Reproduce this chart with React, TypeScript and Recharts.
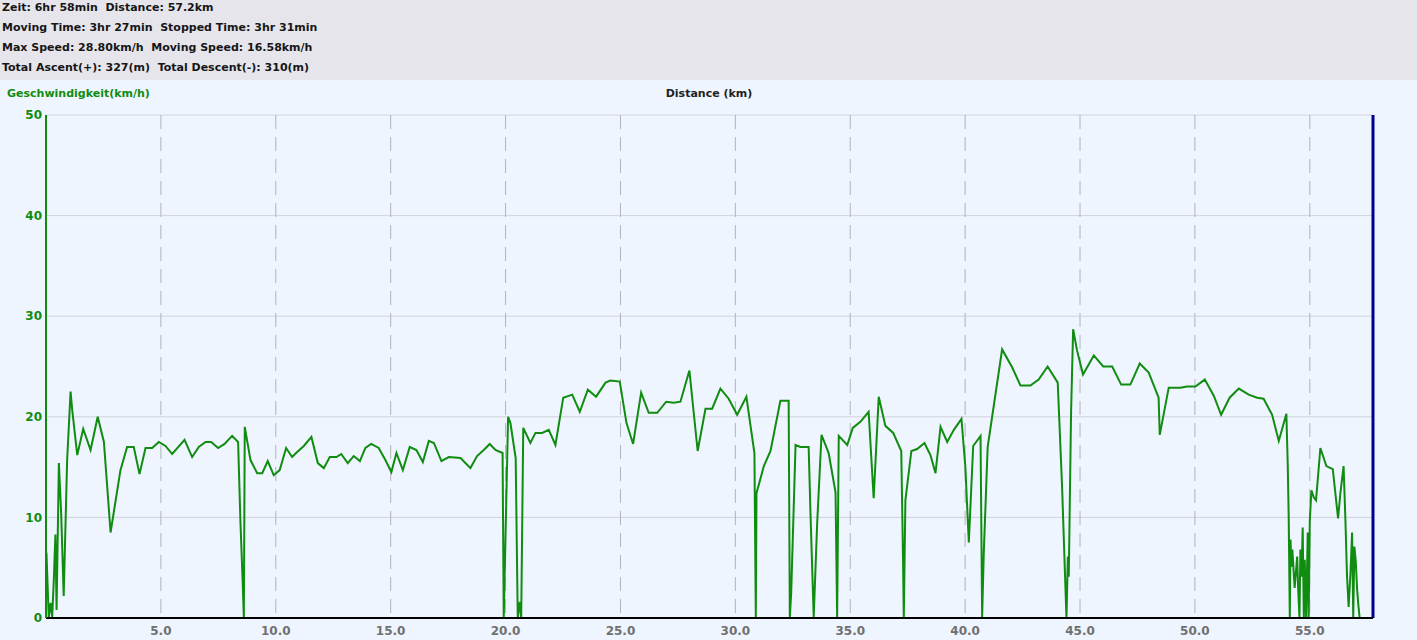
import React from "react";
import {
  LineChart,
  Line,
  XAxis,
  YAxis,
  CartesianGrid,
  ReferenceLine,
} from "recharts";

const headerLines: string[] = [
  "Zeit: 6hr 58min  Distance: 57.2km",
  "Moving Time: 3hr 27min  Stopped Time: 3hr 31min",
  "Max Speed: 28.80km/h  Moving Speed: 16.58km/h",
  "Total Ascent(+): 327(m)  Total Descent(-): 310(m)",
];

const yAxisTitle = "Geschwindigkeit(km/h)";
const xAxisTitle = "Distance (km)";

const xTicks: number[] = [5, 10, 15, 20, 25, 30, 35, 40, 45, 50, 55];
const yTicks: number[] = [0, 10, 20, 30, 40, 50];
const xMax = 57.75;

const distanceKm: number[] = [
  0.02, 0.12, 0.2, 0.27, 0.34, 0.41, 0.46, 0.56, 0.66, 0.77, 0.92, 1.07, 1.14, 1.36, 1.62, 1.94, 2.25, 2.52, 2.81, 3.24,
  3.53, 3.82, 4.07, 4.33, 4.62, 4.91, 5.2, 5.49, 6.03, 6.36, 6.65, 6.94, 7.19, 7.49, 7.77, 8.1, 8.36, 8.46, 8.56, 8.61,
  8.65, 8.9, 9.19, 9.41, 9.65, 9.91, 10.17, 10.45, 10.71, 10.93, 11.22, 11.55, 11.83, 12.09, 12.35, 12.64, 12.85, 13.13,
  13.39, 13.66, 13.9, 14.15, 14.48, 14.77, 15.03, 15.25, 15.53, 15.83, 16.12, 16.4, 16.66, 16.88, 17.21, 17.53, 18.04,
  18.47, 18.76, 19.05, 19.31, 19.56, 19.87, 19.92, 20.11, 20.21, 20.44, 20.53, 20.62, 20.68, 20.77, 21.08, 21.3, 21.59,
  21.88, 22.17, 22.51, 22.9, 23.23, 23.58, 23.94, 24.35, 24.56, 24.97, 25.26, 25.55, 25.9, 26.23, 26.6, 26.99, 27.32,
  27.61, 28.0, 28.36, 28.7, 28.99, 29.35, 29.71, 30.08, 30.48, 30.83, 30.89, 30.92, 31.24, 31.53, 31.96, 32.32, 32.37,
  32.43, 32.62, 32.83, 33.19, 33.27, 33.41, 33.56, 33.75, 34.06, 34.36, 34.43, 34.5, 34.87, 35.11, 35.44, 35.8, 36.02,
  36.24, 36.53, 36.87, 37.22, 37.3, 37.33, 37.4, 37.66, 37.91, 38.23, 38.49, 38.71, 38.93, 39.22, 39.51, 39.84, 40.01,
  40.16, 40.35, 40.67, 40.74, 40.81, 40.98, 41.24, 41.61, 42.05, 42.41, 42.84, 43.2, 43.59, 44.03, 44.22, 44.32, 44.41,
  44.47, 44.51, 44.61, 44.7, 44.87, 45.13, 45.6, 46.01, 46.4, 46.79, 47.19, 47.6, 47.99, 48.42, 48.47, 48.86, 49.37,
  49.66, 50.02, 50.43, 50.82, 51.14, 51.51, 51.91, 52.34, 52.71, 52.99, 53.36, 53.65, 53.98, 54.04, 54.08, 54.13, 54.16,
  54.2, 54.24, 54.34, 54.45, 54.49, 54.55, 54.59, 54.64, 54.69, 54.74, 54.78, 54.84, 54.91, 54.95, 55.0, 55.07, 55.17,
  55.27, 55.46, 55.72, 56.0, 56.23, 56.33, 56.47, 56.55, 56.62, 56.69, 56.77, 56.84, 56.89, 56.94, 57.0, 57.06, 57.12,
  57.17,
];

const speedKmh: number[] = [
  6.5, 0, 1.5, 0.1, 3.8, 8.3, 0.8, 15.4, 10.4, 2.2, 15.7, 22.5, 20.7, 16.2, 18.8, 16.7, 20.0, 17.5, 8.5, 14.7,
  17.0, 17.0, 14.3, 16.9, 16.9, 17.5, 17.1, 16.3, 17.7, 16.0, 17.0, 17.5, 17.5, 16.9, 17.3, 18.1, 17.5, 9.7, 3.5, 0,
  19.0, 15.7, 14.4, 14.4, 15.6, 14.2, 14.7, 16.9, 16.0, 16.5, 17.1, 18.0, 15.4, 14.9, 16.0, 16.0, 16.3, 15.4,
  16.1, 15.6, 16.9, 17.3, 16.9, 15.7, 14.5, 16.4, 14.7, 17.0, 16.7, 15.5, 17.6, 17.4, 15.6, 16.0, 15.9,
  14.9, 16.1, 16.7, 17.3, 16.7, 16.4, 0, 20.0, 19.4, 15.9, 0, 1.6, 0, 18.9, 17.4, 18.4, 18.4,
  18.7, 17.2, 21.9, 22.2, 20.5, 22.7, 22.0, 23.4, 23.6, 23.5, 19.4, 17.3, 22.4, 20.4, 20.4, 21.5, 21.4,
  21.5, 24.6, 16.6, 20.8, 20.8, 22.8, 21.8, 20.2, 22.0, 16.4, 0, 12.4, 15.1, 16.6, 21.6, 21.6, 0,
  2.5, 17.2, 17.0, 17.0, 10.4, 0.1, 9.4, 18.2, 16.4, 12.5, 0.1, 18.1, 17.2, 18.9, 19.5, 20.5, 11.9,
  22.0, 19.1, 18.4, 16.6, 5.5, 0, 11.7, 16.6, 16.8, 17.4, 16.2, 14.4, 19.0, 17.5, 18.7, 19.8, 15.0,
  7.5, 17.1, 18.1, 0.1, 6.4, 17.0, 21.0, 26.7, 24.9, 23.1, 23.1, 23.7, 25.0, 23.4, 13.0, 6.1, 0,
  6.1, 4.1, 20.4, 28.7, 26.6, 24.2, 26.1, 25.0, 25.0, 23.2, 23.2, 25.3, 24.4, 21.9, 18.2, 22.9, 22.9,
  23.0, 23.0, 23.7, 22.1, 20.2, 21.9, 22.8, 22.2, 21.9, 21.8, 20.2, 17.6, 20.3, 15.2, 10.2, 0, 7.8,
  5.1, 6.8, 3.0, 6.1, 3.1, 0, 6.8, 4.1, 9.0, 0, 5.8, 0, 8.5, 0, 9.7, 12.7, 12.0,
  11.7, 16.9, 15.1, 14.8, 9.9, 12.4, 15.1, 9.7, 4.1, 1.1, 4.5, 8.5, 0, 7.1, 5.6, 2.8, 1.1,
  0,
];

const data = distanceKm.map((d, i) => ({ km: d, speed: speedKmh[i] }));

const GREEN = "#108c10";
const FONT = "'DejaVu Sans', sans-serif";

export default function App() {
  return (
    <div
      style={{
        position: "absolute",
        left: 0,
        top: 0,
        width: 1417,
        height: 640,
        overflow: "hidden",
        background: "#eef5fe",
        fontFamily: FONT,
      }}
    >
      <div
        style={{
          position: "absolute",
          left: 0,
          top: 0,
          width: 1417,
          height: 80,
          background: "#e6e5eb",
        }}
      >
        {headerLines.map((t, i) => (
          <div
            key={i}
            style={{
              position: "absolute",
              left: 2,
              top: -2 + i * 20,
              height: 20,
              lineHeight: "20px",
              fontSize: 11,
              fontWeight: "bold",
              color: "#161616",
              whiteSpace: "pre",
            }}
          >
            {t}
          </div>
        ))}
      </div>
      <div
        style={{
          position: "absolute",
          left: 7,
          top: 85,
          lineHeight: "18px",
          fontSize: 11,
          fontWeight: "bold",
          color: GREEN,
          whiteSpace: "pre",
        }}
      >
        {yAxisTitle}
      </div>
      <div
        style={{
          position: "absolute",
          left: 609,
          width: 200,
          textAlign: "center",
          top: 85,
          lineHeight: "18px",
          fontSize: 11,
          fontWeight: "bold",
          color: "#222",
          whiteSpace: "pre",
        }}
      >
        {xAxisTitle}
      </div>
      <div style={{ position: "absolute", left: 0, top: 80 }}>
        <LineChart
          width={1417}
          height={560}
          data={data}
          margin={{ top: 35, right: 44, bottom: 0, left: 0 }}
        >
          <CartesianGrid
            horizontal={true}
            vertical={false}
            stroke="#d2d2da"
            strokeWidth={1}
          />
          <CartesianGrid
            horizontal={false}
            vertical={true}
            stroke="#b2b2ba"
            strokeDasharray="14 8"
            strokeWidth={1}
          />
          <XAxis
            type="number"
            dataKey="km"
            domain={[0, xMax]}
            ticks={xTicks}
            tickFormatter={(v: number) => v.toFixed(1)}
            allowDataOverflow
            height={22}
            tickLine={false}
            tickSize={0}
            tickMargin={8}
            axisLine={{ stroke: "#000", strokeWidth: 2 }}
            tick={{ fill: "#707070", fontSize: 12, fontWeight: "bold", fontFamily: FONT }}
          />
          <YAxis
            type="number"
            domain={[0, 50]}
            ticks={yTicks}
            width={46}
            tickLine={false}
            tickSize={0}
            tickMargin={4}
            axisLine={{ stroke: GREEN, strokeWidth: 2 }}
            tick={{ fill: GREEN, fontSize: 12, fontWeight: "bold", fontFamily: FONT }}
          />
          <ReferenceLine x={xMax} stroke="#00008b" strokeWidth={3} ifOverflow="visible" />
          <Line
            type="linear"
            dataKey="speed"
            stroke={GREEN}
            strokeWidth={2}
            dot={false}
            isAnimationActive={false}
          />
        </LineChart>
      </div>
    </div>
  );
}
